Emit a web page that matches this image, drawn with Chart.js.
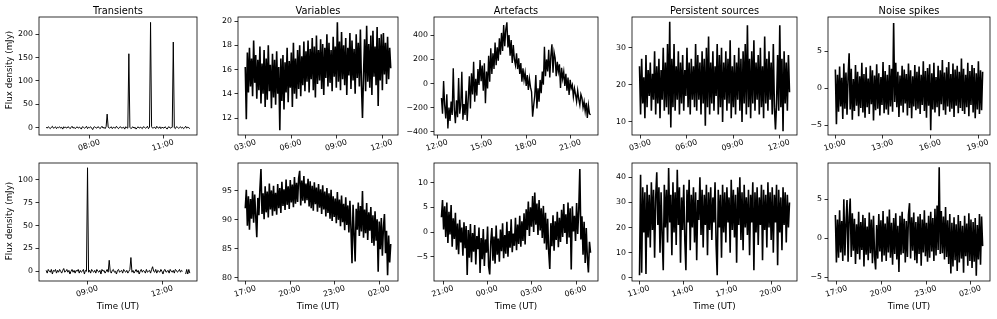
<!DOCTYPE html>
<html>
<head>
<meta charset="utf-8">
<script src="https://cdn.jsdelivr.net/npm/chart.js@4.4.1/dist/chart.umd.min.js"></script>
<style>
  body { margin: 0; background: #fff; width: 997px; height: 319px; overflow: hidden; position: relative; }
  canvas { position: absolute; }
</style>
</head>
<body>
<script>
// flux density (mJy) per sample; null = no data
const transientsTop = [
  1, -1, 2, 0, -2, 1, 3, -1, 0, 2,
  -2, 1, 0, 2, -1, 1, -3, 2, 0, 1,
  -1, 2, 1, -2, 0, 3, -1, 1, -2, 0,
  2, -1, 1, 0, -3, 2, 1, -1, 0, 3,
  -2, 1, 0, 2, -1, -4, 1, 2, 0, -1,
  2, 1, -2, 0, 3, -1, 1, -2, 2, 29,
  1, -1, 0, 2, -2, 1, 0, -1, 3, 0,
  -2, 1, 2, -1, 0, 1, -3, 2, 0, -1,
  158, 1, -2, 0, 2, -1, 1, -3, 0, 2,
  -1, 1, 0, -2, 2, 1, -1, 0, 3, -2,
  1, 225, 2, -1, 0, 1, -2, 3, 0, -1,
  2, -2, 1, 0, -1, 2, 0, -3, 1, 2,
  -1, 0, 1, 183, 0, -2, 2, 1, -1, 0,
  2, -1, 1, -2, 0, 3, -1, 1, 0, -2
];
const variablesTop = [
  16.2, 11.9, 17.4, 14.1, 17.8, 14.6, 16.9, 13.8, 18.4, 14.9,
  17.2, 13.6, 16.8, 14.3, 17.9, 13.2, 16.5, 14.0, 17.6, 12.9,
  16.9, 13.5, 18.0, 14.2, 16.4, 12.8, 17.3, 13.7, 16.8, 13.1,
  17.5, 14.0, 16.2, 11.0, 16.9, 13.4, 17.2, 12.7, 16.6, 14.1,
  17.8, 13.3, 16.7, 14.5, 17.4, 12.9, 18.2, 14.0, 16.9, 13.6,
  17.6, 14.4, 18.0, 13.8, 17.1, 14.7, 18.3, 14.2, 17.5, 15.0,
  18.4, 14.1, 17.7, 15.2, 18.6, 14.3, 17.9, 13.7, 18.8, 14.8,
  17.6, 15.1, 18.5, 14.4, 18.1, 13.9, 17.8, 15.3, 18.9, 14.6,
  18.2, 14.9, 17.6, 14.2, 18.7, 15.4, 17.9, 14.5, 19.9, 15.0,
  18.3, 14.3, 19.1, 15.2, 18.0, 14.7, 18.6, 13.9, 17.8, 15.5,
  19.0, 14.4, 18.4, 15.1, 17.7, 14.0, 18.9, 15.3, 18.2, 14.6,
  19.3, 14.8, 12.0, 15.6, 18.5, 14.2, 19.6, 15.0, 18.1, 14.5,
  18.8, 13.9, 19.2, 15.4, 17.9, 14.7, 19.5, 13.0, 18.6, 15.1,
  18.9, 14.3, 19.0, 15.6, 18.2, 14.8, 18.7, 15.2, 17.8, 16.1
];
const artefactsTop = [
  -120, -250, 20, -180, -290, -90, -372, -200, -310, -150,
  -260, 126, -220, -330, -140, -280, 45, -250, -180, 98,
  -300, -170, -260, -60, -310, -120, 60, -206, 85, -90,
  181, -150, 40, -100, 120, -12, 195, 20, 150, -60,
  168, -164, 100, -40, 230, 15, 292, 80, 250, 120,
  340, 153, 300, 190, 375, 240, 420, 270, 485, 310,
  450, 508, 300, 403, 230, 360, 170, 320, 200, 153,
  250, 120, 209, 80, 170, 15, 126, 30, 90, -20,
  70, -54, 40, -30, -68, -275, -180, -100, 71, -206,
  -40, -150, 30, -80, 100, -10, 305, 60, 200, 100,
  280, 50, 230, 325, 90, 260, 212, 60, 180, 100,
  160, -37, 130, 40, 98, -20, 80, -60, 50, -95,
  30, -40, -12, -110, -40, -90, -150, -60, -130, -178,
  -90, -120, -200, -150, -230, -160, -286, -180, -250, -260
];
const persistentTop = [
  25, 12, 27, 15, 22, 11, 28, 14, 24, 17,
  26, 13, 23, 16, 29, 12, 25, 15, 27, 11,
  24, 16, 30, 13, 26, 14, 31, 12, 37, 8.5,
  27, 14, 31, 13, 25, 16, 29, 12, 26, 15,
  28, 13, 24, 17, 30, 14, 26, 12, 27, 16,
  25, 14, 31, 13, 28, 16, 26, 12, 29, 15,
  27, 9, 30, 14, 33, 12, 26, 15, 29, 13,
  25, 17, 31, 12, 28, 14, 30, 10, 26, 16,
  29, 13, 27, 15, 32, 11, 25, 14, 28, 12,
  26, 16, 30, 13, 27, 10, 29, 15, 31, 12,
  36, 14, 27, 11, 29, 15, 32, 13, 26, 16,
  28, 12, 30, 14, 25, 11, 33, 15, 27, 13,
  29, 16, 26, 12, 31, 14, 8, 15, 28, 13,
  36, 14, 27, 7.5, 29, 15, 26, 13, 28, 18
];
const noiseTop = [
  2.5, -4.9, 1.8, -3.2, 2.9, -2.5, 1.4, -4.2, 3.3, -2.8,
  2.1, -3.6, 1.5, 4.7, -2.9, 2.6, -4.3, 1.2, -3.1, 3.1,
  -2.4, 2.2, -3.8, 1.6, -2.7, 3.4, -3.3, 1.9, -4.0, 2.8,
  -2.6, 1.3, -3.5, 3.0, -2.2, 2.4, -4.4, 1.7, -3.0, 3.2,
  -2.8, 2.0, -3.7, 1.5, -2.3, 3.5, -3.4, 2.3, -2.9, 1.8,
  -3.6, 3.1, -2.5, 2.6, -3.2, 8.8, -1.9, 3.4, -2.6, 2.2,
  -3.9, 1.7, -2.4, 3.0, -3.3, 2.5, -2.1, 1.9, -3.7, 3.3,
  -2.7, 2.4, -4.1, 1.6, -2.5, 3.1, -3.0, 2.2, -2.8, 2.9,
  -3.5, 1.8, -2.3, 3.6, -3.1, 2.3, -4.0, 2.7, -2.4, 3.2,
  -5.7, 2.0, -2.9, 3.4, -3.3, 1.5, -2.6, 3.0, -3.8, 2.4,
  -2.2, 3.8, -3.0, 2.1, -3.6, 2.8, -2.5, 3.5, -3.2, 1.9,
  -2.8, 3.3, -3.9, 2.5, -2.4, 3.0, -3.4, 2.2, -2.7, 4.0,
  -3.1, 2.6, -3.5, 1.8, -2.6, 3.4, -3.8, 2.3, -2.3, 3.1,
  -3.3, 2.7, -4.1, 2.0, -2.9, 3.6, -3.5, 2.4, -3.0, 2.2
];
const transientsBottom = [
  1, -2, 2, 0, -1, 2, -3, 1, 0, 2,
  -2, 1, -1, 2, 0, -2, 1, 3, -1, 0,
  2, -1, 1, -3, 0, 2, -1, 1, -2, 1,
  0, 2, -2, 1, -1, 0, 2, -3, 1, 0,
  113, -1, 1, -2, 2, 0, -1, 1, -2, 2,
  0, -1, 1, -3, 2, 0, 1, -2, 0, 2,
  -1, 12, 0, -2, 1, 2, -1, 0, -3, 1,
  2, -1, 0, 1, -2, 2, 0, -1, 1, -2,
  0, 2, 15, -1, 1, -2, 0, 2, -1, 1,
  -3, 0, 2, -1, 1, 0, -2, 2, -1, 0,
  1, -2, 2, 5, 0, -1, 2, -2, 1, 0,
  -1, 2, 0, -3, 1, 2, -1, 0, 1, -2,
  2, 0, -1, 1, -2, 2, 1, -1, 0, 2,
  -1, 1, 0, null, null, -3, 2, -3, 2, -2
];
const variablesBottom = [
  92.0, 95.2, 89.0, 94.1, 88.3, 93.6, 90.2, 95.0, 89.5, 94.4,
  90.6, 87.0, 93.8, 90.8, 95.4, 98.8, 91.0, 94.6, 90.1, 95.8,
  91.3, 94.9, 90.4, 96.3, 91.8, 95.1, 90.7, 95.9, 91.5, 94.7,
  90.9, 96.2, 92.0, 95.5, 91.2, 96.6, 92.4, 95.3, 91.7, 97.0,
  92.6, 95.8, 91.9, 96.9, 93.0, 96.1, 92.2, 97.4, 92.8, 96.4,
  93.1, 97.2, 98.5, 92.5, 96.8, 93.3, 97.6, 92.9, 96.3, 93.4,
  97.1, 92.3, 96.7, 92.0, 95.9, 91.6, 96.5, 92.7, 95.6, 91.4,
  96.2, 92.1, 95.3, 91.0, 96.0, 91.8, 94.9, 90.6, 95.5, 91.2,
  94.6, 90.2, 95.2, 89.8, 94.1, 90.5, 93.7, 89.4, 94.8, 90.0,
  93.5, 88.9, 94.2, 89.6, 92.8, 88.2, 93.9, 89.1, 92.5, 87.8,
  93.3, 88.5, 82.5, 92.6, 87.6, 82.8, 91.9, 88.3, 93.0, 87.2,
  92.4, 88.0, 95.0, 86.9, 91.8, 87.7, 92.9, 86.5, 91.3, 88.1,
  92.2, 86.0, 90.8, 85.5, 91.5, 86.4, 90.1, 81.0, 89.7, 84.9,
  90.3, 83.8, 88.6, 91.0, 84.2, 88.1, 80.4, 87.3, 82.6, 85.8
];
const artefactsBottom = [
  3.0, 6.5, 0.5, 5.2, -1.0, 6.0, -2.2, 4.1, -0.5, 5.5,
  -3.0, 2.8, -1.4, 3.9, -3.6, 1.7, -4.5, 2.5, -2.1, 0.9,
  -4.8, 2.0, -3.3, 1.2, -8.7, 0.4, -5.2, 1.6, -6.1, -0.2,
  -4.0, 1.4, -6.6, -0.8, -3.5, 0.9, -8.3, -1.2, -5.5, 0.6,
  -6.9, -1.5, -4.2, 1.1, -7.0, -8.6, -2.0, 0.8, -5.8, -0.9,
  -6.4, 1.3, -4.6, -1.3, -6.0, 0.5, -3.9, 1.8, -5.3, -0.6,
  -4.4, 2.1, -5.0, 0.2, -3.2, 2.6, -4.1, -0.3, -2.8, 2.9,
  -3.7, 1.5, -2.4, 3.3, -3.0, 2.2, -1.8, 3.8, -2.5, 4.6,
  0.4, 6.2, -0.8, 5.0, 1.1, 7.3, 0.0, 8.0, 1.5, 5.8,
  -0.6, 6.5, 0.3, 4.8, -1.2, 5.3, -2.3, 3.9, -3.6, 2.7,
  -4.0, -7.5, 1.8, -2.9, 3.4, -3.8, 2.2, -1.6, 4.1, -3.1,
  2.9, -2.0, 4.5, -1.0, 5.7, -0.2, 3.6, -2.4, 6.0, -1.1,
  4.8, -7.6, 5.2, 0.1, 3.3, -1.8, 5.9, -0.4, 4.4, 12.8,
  -1.5, 3.2, -4.6, 2.1, -6.3, 0.8, -5.1, -8.2, -2.0, -4.2
];
const persistentBottom = [
  1, 41, 2, 36, 18, 34, 1.5, 37, 16, 33,
  12, 38, 19, 35, 8, 32, 42, 21, 36, 10,
  34, 17, 3, 37, 20, 35, 14, 43.7, 22, 33,
  9, 38, 18, 34, 13, 43, 21, 36, 6, 32,
  19, 37, 15, 3, 35, 22, 39, 11, 33, 20,
  36, 14, 34, 7, 31, 23, 40, 17, 35, 12,
  33, 21, 37, 9, 34, 19, 36, 15, 32, 22,
  38, 13, 1, 35, 20, 33, 8, 37, 18, 34,
  14, 36, 22, 32, 10, 39, 19, 35, 16, 33,
  6, 36, 21, 40, 15, 34, 11, 37, 20, 32,
  17, 35, 9, 33, 22, 38, 3, 34, 18, 36,
  13, 32, 21, 37, 7, 35, 19, 33, 12, 38,
  20, 34, 15, 36, 10, 33, 22, 37, 5, 35,
  18, 32, 11, 36, 21, 34, 14, 33, 20, 30
];
const noiseBottom = [
  3.0, -3.1, 2.4, -2.5, 3.6, -1.8, 2.2, -2.9, 5.0, -2.2,
  1.9, 4.9, -3.0, 2.7, 5.1, -2.4, 3.2, -1.6, 2.5, -3.3,
  1.8, -2.0, 3.4, -2.7, 2.1, -1.5, 3.0, -3.6, 2.6, -2.1,
  1.5, -2.8, 3.3, -1.9, 2.4, -3.2, 2.9, -2.3, -4.0, 1.7,
  -2.6, 3.1, -1.7, 2.3, -3.0, 3.5, -2.2, 1.9, -2.9, 2.8,
  -1.8, 3.7, -2.5, 2.0, -3.4, 2.6, -2.0, 3.2, -2.7, 1.6,
  -4.3, 2.9, -2.1, 3.4, -1.9, 2.5, -3.1, 2.2, -2.4, 3.0,
  4.5, -2.6, 2.7, -1.6, 3.3, -2.8, 2.1, -3.2, 2.8, -2.0,
  3.1, -3.5, 2.4, -1.8, 3.6, -2.3, 2.0, -3.0, 2.9, -2.5,
  3.4, -1.7, 2.6, -2.9, 3.8, -2.2, 4.2, -1.5, 9.1, -2.0,
  3.5, -1.9, 2.8, -2.7, 4.0, -2.4, 2.3, -3.3, 3.1, -4.5,
  2.0, -3.6, 2.7, -2.8, 1.8, -4.2, 3.0, -3.1, 2.2, -2.6,
  1.6, -4.4, 2.9, -2.3, 1.9, -3.5, 3.2, -2.9, 2.4, -3.8,
  2.1, -3.0, 2.6, -4.8, 1.7, -2.7, 3.1, -3.4, 2.8, -1.0
];

// observation windows (decimal hours UT, past 24 = next day)
const spans = {
  transientsTop: [6.23, 12.07], variablesTop: [2.97, 12.57], artefactsTop: [12.27, 22.34],
  persistentTop: [2.92, 12.66], noiseTop: [10.0, 19.28],
  transientsBottom: [7.34, 13.09], variablesBottom: [16.98, 26.77], artefactsBottom: [20.88, 30.98],
  persistentBottom: [11.03, 21.25], noiseBottom: [16.9, 26.8]
};

// tick labels
const xTicksTransTop = [8, 11];
const xTicksVarTop = [3, 6, 9, 12];
const xTicksArtTop = [12, 15, 18, 21];
const xTicksPersTop = [3, 6, 9, 12];
const xTicksNoiseTop = [10, 13, 16, 19];
const xTicksTransBottom = [9, 12];
const xTicksVarBottom = [17, 20, 23, 26];
const xTicksArtBottom = [21, 24, 27, 30];
const xTicksPersBottom = [11, 14, 17, 20];
const xTicksNoiseBottom = [17, 20, 23, 26];
const yTicksTransTop = [0, 50, 100, 150, 200];
const yTicksVarTop = [12, 14, 16, 18, 20];
const yTicksArtTop = [-400, -200, 0, 200, 400];
const yTicksPersTop = [10, 20, 30];
const yTicksNoise = [-5, 0, 5];
const yTicksTransBottom = [0, 25, 50, 75, 100];
const yTicksVarBottom = [80, 85, 90, 95];
const yTicksArtBottom = [-5, 0, 5, 10];
const yTicksPersBottom = [0, 10, 20, 30, 40];

const titles = ['Transients', 'Variables', 'Artefacts', 'Persistent sources', 'Noise spikes'];

// layout of the axes boxes (px)
const colBox = [[39, 197], [238, 398], [434, 598], [632, 797], [828, 990]];
const rowBox = [[17, 135], [163, 281]];
const FONT = '"DejaVu Sans", sans-serif';

const panels = [
  { r: 0, c: 0, key: 'transientsTop', data: transientsTop, xt: xTicksTransTop, yt: yTicksTransTop, y: [-15.6, 236.5], lw: 1 },
  { r: 0, c: 1, key: 'variablesTop', data: variablesTop, xt: xTicksVarTop, yt: yTicksVarTop, y: [10.6, 20.33], lw: 1.6 },
  { r: 0, c: 2, key: 'artefactsTop', data: artefactsTop, xt: xTicksArtTop, yt: yTicksArtTop, y: [-427, 552], lw: 1.4 },
  { r: 0, c: 3, key: 'persistentTop', data: persistentTop, xt: xTicksPersTop, yt: yTicksPersTop, y: [6.5, 38.25], lw: 1.6 },
  { r: 0, c: 4, key: 'noiseTop', data: noiseTop, xt: xTicksNoiseTop, yt: yTicksNoise, y: [-6.35, 9.6], lw: 1.6 },
  { r: 1, c: 0, key: 'transientsBottom', data: transientsBottom, xt: xTicksTransBottom, yt: yTicksTransBottom, y: [-10.6, 118.2], lw: 1 },
  { r: 1, c: 1, key: 'variablesBottom', data: variablesBottom, xt: xTicksVarBottom, yt: yTicksVarBottom, y: [79.4, 99.85], lw: 1.6 },
  { r: 1, c: 2, key: 'artefactsBottom', data: artefactsBottom, xt: xTicksArtBottom, yt: yTicksArtBottom, y: [-9.93, 14], lw: 1.6 },
  { r: 1, c: 3, key: 'persistentBottom', data: persistentBottom, xt: xTicksPersBottom, yt: yTicksPersBottom, y: [-1.3, 45.7], lw: 1.6 },
  { r: 1, c: 4, key: 'noiseBottom', data: noiseBottom, xt: xTicksNoiseBottom, yt: yTicksNoise, y: [-5.47, 9.65], lw: 1.6 }
];

const hhmm = v => String(((v % 24) + 24) % 24).padStart(2, '0') + ':00';
const num = v => (v < 0 ? '\u2212' + Math.abs(v) : String(v));

const PAD_L = 40, PAD_T = 17, PAD_R = 3, PAD_B = 40;

panels.forEach(p => {
  const [bl, br] = colBox[p.c];
  const [bt, bb] = rowBox[p.r];
  const cv = document.createElement('canvas');
  const W = br - bl + PAD_L + PAD_R, H = bb - bt + PAD_T + PAD_B;
  cv.width = W; cv.height = H;
  cv.style.left = (bl - PAD_L) + 'px';
  cv.style.top = (bt - PAD_T) + 'px';
  document.body.appendChild(cv);

  const [t0, t1] = spans[p.key];
  const n = p.data.length;
  const pts = p.data.map((v, i) => ({ x: t0 + i * (t1 - t0) / (n - 1), y: v }));
  const m = 0.05 * (t1 - t0);

  const decor = {
    id: 'decor',
    afterDraw(chart) {
      const { ctx, chartArea: a } = chart;
      ctx.save();
      ctx.strokeStyle = '#000';
      ctx.lineWidth = 0.8;
      ctx.strokeRect(a.left, a.top, a.right - a.left, a.bottom - a.top);
      ctx.fillStyle = '#000';
      // rotated time labels
      ctx.font = '7.8px ' + FONT;
      ctx.textAlign = 'center';
      ctx.textBaseline = 'middle';
      const xs = chart.scales.x;
      p.xt.forEach(v => {
        ctx.save();
        ctx.translate(xs.getPixelForValue(v) - 0.5, a.bottom + 10.5);
        ctx.rotate(-17 * Math.PI / 180);
        ctx.fillText(hhmm(v), 0, 0);
        ctx.restore();
      });
      if (p.r === 0) {
        ctx.font = '9.8px ' + FONT;
        ctx.textBaseline = 'alphabetic';
        ctx.fillText(titles[p.c], (a.left + a.right) / 2, 14);
      } else {
        ctx.font = '8.7px ' + FONT;
        ctx.textBaseline = 'middle';
        ctx.fillText('Time (UT)', (a.left + a.right) / 2, a.bottom + 25.5);
      }
      if (p.c === 0) {
        ctx.font = '8.7px ' + FONT;
        ctx.textBaseline = 'middle';
        ctx.translate(10 - (bl - PAD_L), p.r === 0 ? 70 : a.top + 58);
        ctx.rotate(-Math.PI / 2);
        ctx.fillText('Flux density (mJy)', 0, 0);
      }
      ctx.restore();
    }
  };

  new Chart(cv, {
    type: 'line',
    data: {
      datasets: [{
        data: pts,
        borderColor: '#000',
        borderWidth: p.lw,
        pointRadius: 0,
        tension: 0,
        spanGaps: false
      }]
    },
    options: {
      responsive: false,
      animation: false,
      devicePixelRatio: 1,
      layout: { padding: { left: 0, top: PAD_T, right: PAD_R, bottom: 0 } },
      plugins: { legend: { display: false }, tooltip: { enabled: false } },
      scales: {
        x: {
          type: 'linear',
          min: t0 - m,
          max: t1 + m,
          afterBuildTicks: s => { s.ticks = p.xt.map(v => ({ value: v })); },
          afterFit: s => { s.height = PAD_B; },
          ticks: { display: false },
          grid: { drawOnChartArea: false, drawTicks: true, tickLength: 3.5, color: '#000', lineWidth: 0.8 },
          border: { display: false }
        },
        y: {
          min: p.y[0],
          max: p.y[1],
          afterBuildTicks: s => { s.ticks = p.yt.map(v => ({ value: v })); },
          afterFit: s => { s.width = PAD_L; },
          ticks: { color: '#000', padding: 2.5, font: { family: FONT, size: 7.8 }, callback: v => num(v) },
          grid: { drawOnChartArea: false, drawTicks: true, tickLength: 3.5, color: '#000', lineWidth: 0.8 },
          border: { display: false }
        }
      }
    },
    plugins: [decor]
  });
});
</script>
</body>
</html>
